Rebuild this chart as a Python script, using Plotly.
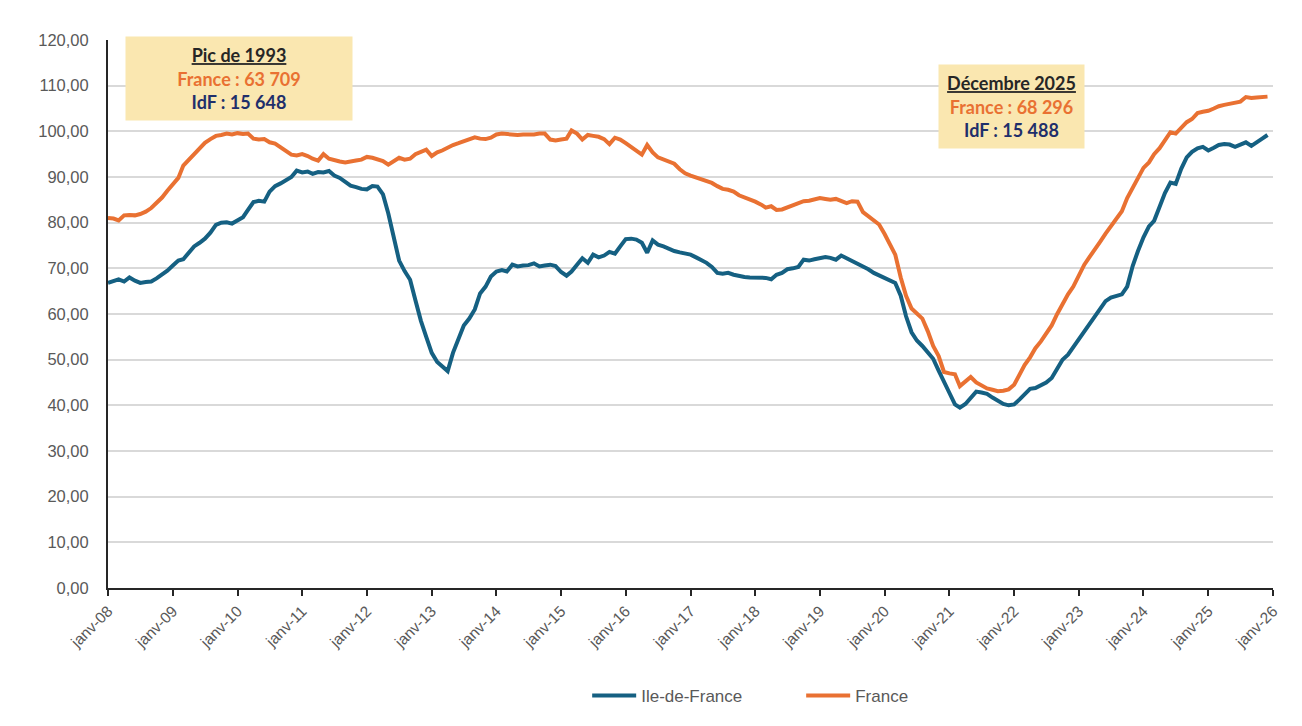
import plotly.graph_objects as go
import pandas as pd

# Monthly index values, janv-2008 .. déc-2025 (base 100 = pic de 1993)
months = pd.date_range("2008-01-01", "2025-12-01", freq="MS")

france = [
    81.0, 80.9, 80.5, 81.6, 81.7, 81.6, 81.9, 82.4, 83.2, 84.3, 85.5, 87.0,   # 2008
    88.5, 89.8, 92.5, 93.8, 95.2, 96.5, 97.5, 98.3, 99.0, 99.2, 99.5, 99.3,   # 2009
    99.6, 99.4, 99.5, 98.4, 98.2, 98.3, 97.6, 97.3, 96.4, 95.7, 94.9, 94.7,   # 2010
    95.0, 94.6, 94.0, 93.6, 95.0, 94.0, 93.6, 93.4, 93.2, 93.5, 93.6, 93.8,   # 2011
    94.4, 94.2, 93.8, 93.5, 92.7, 93.4, 94.2, 93.8, 94.0, 95.0, 95.4, 96.0,   # 2012
    94.6, 95.4, 95.8, 96.5, 97.0, 97.4, 97.8, 98.4, 98.7, 98.4, 98.3, 98.6,   # 2013
    99.3, 99.5, 99.4, 99.3, 99.2, 99.3, 99.2, 99.3, 99.5, 99.5, 98.2, 98.0,   # 2014
    98.2, 98.4, 100.2, 99.5, 98.2, 99.2, 99.0, 98.8, 98.3, 97.2, 98.6, 98.2,  # 2015
    97.4, 96.6, 95.6, 94.9, 97.0, 95.4, 94.3, 93.8, 93.3, 92.9, 91.7, 90.8,   # 2016
    90.3, 89.9, 89.5, 89.2, 88.7, 88.0, 87.4, 87.2, 86.8, 86.0, 85.6, 85.0,   # 2017
    84.6, 84.0, 83.3, 83.6, 82.8, 82.9, 83.4, 83.9, 84.4, 84.7, 84.8, 85.1,   # 2018
    85.4, 85.2, 85.0, 85.2, 84.8, 84.3, 84.7, 84.6, 82.3, 81.4, 80.7, 79.6,   # 2019
    77.5, 75.0, 73.0, 68.0, 64.0, 61.2, 60.1, 59.0, 56.2, 53.0, 50.8, 47.3,   # 2020
    47.0, 46.8, 44.2, 45.2, 46.2, 45.0, 44.4, 43.7, 43.4, 43.1, 43.2, 43.5,   # 2021
    44.5, 46.8, 48.8, 50.5, 52.5, 54.0, 55.8, 57.5, 60.0, 62.2, 64.3, 66.0,   # 2022
    68.3, 70.8, 72.4, 74.0, 75.8, 77.6, 79.2, 80.6, 82.5, 85.4, 87.6, 90.0,   # 2023
    92.0, 93.2, 95.0, 96.3, 97.9, 99.8, 99.5, 100.8, 102.0, 102.7, 104.0, 104.3,  # 2024
    104.5, 105.0, 105.5, 105.8, 106.1, 106.3, 106.5, 107.5, 107.3, 107.4, 107.6, 107.6,  # 2025
]

idf = [
    66.8, 67.2, 67.6, 67.1, 68.0, 67.3, 66.8, 67.0, 67.1, 67.8, 68.6, 69.5,   # 2008
    70.6, 71.7, 72.0, 73.3, 74.8, 75.6, 76.5, 77.8, 79.5, 80.0, 80.1, 79.8,   # 2009
    80.5, 81.2, 82.8, 84.5, 84.8, 84.6, 86.8, 88.0, 88.6, 89.4, 90.0, 91.4,   # 2010
    91.0, 91.2, 90.7, 91.1, 91.0, 91.3, 90.3, 89.8, 88.8, 88.1, 87.8, 87.4,   # 2011
    87.3, 88.0, 87.9, 86.2, 82.0, 77.0, 71.7, 69.4, 67.5, 63.0, 58.5, 55.0,   # 2012
    51.5, 49.5, 48.6, 47.5, 51.5, 54.6, 57.5, 59.0, 61.0, 64.5, 66.0, 68.2,   # 2013
    69.3, 69.6, 69.3, 70.8, 70.4, 70.6, 70.7, 71.1, 70.4, 70.6, 70.8, 70.5,   # 2014
    69.2, 68.4, 69.3, 70.8, 72.2, 71.2, 73.0, 72.4, 72.8, 73.6, 73.2, 74.8,   # 2015
    76.4, 76.5, 76.3, 75.6, 73.4, 76.1, 75.2, 74.8, 74.2, 73.8, 73.5, 73.3,   # 2016
    73.0, 72.4, 71.8, 71.2, 70.3, 69.0, 68.8, 69.0, 68.6, 68.3, 68.1, 68.0,   # 2017
    68.0, 68.1, 67.9, 67.6, 68.6, 69.0, 69.8, 70.0, 70.3, 71.9, 71.7, 72.0,   # 2018
    72.3, 72.5, 72.3, 71.9, 72.8, 72.2, 71.7, 71.0, 70.6, 69.8, 69.0, 68.5,   # 2019
    68.0, 67.5, 66.8, 64.0, 59.5, 56.0, 54.2, 53.0, 51.5, 50.2, 47.6, 45.0,   # 2020
    42.7, 40.2, 39.5, 40.3, 41.6, 43.0, 42.8, 42.5, 41.7, 41.0, 40.3, 40.0,   # 2021
    40.2, 41.3, 42.5, 43.6, 43.8, 44.4, 45.0, 46.0, 48.0, 50.0, 51.1, 52.8,   # 2022
    54.4, 56.2, 57.8, 59.3, 61.0, 62.8, 63.6, 63.9, 64.3, 66.0, 70.5, 73.8,   # 2023
    76.8, 79.2, 80.4, 83.5, 86.5, 88.8, 88.5, 91.8, 94.3, 95.5, 96.3, 96.6,   # 2024
    95.8, 96.4, 97.0, 97.2, 97.1, 96.6, 97.2, 97.6, 96.8, 97.5, 98.4, 99.2,   # 2025
]

tick_dates = [f"{y}-01-01" for y in range(2008, 2027)]
tick_labels = [f"janv-{y % 100:02d}" for y in range(2008, 2027)]
y_ticks = list(range(0, 121, 10))

BLUE = "#156082"
ORANGE = "#E97132"
NAVY = "#1F2F6B"
GREY = "#595959"

fig = go.Figure()
fig.add_trace(go.Scatter(x=months, y=idf, name="Ile-de-France", mode="lines",
                         line=dict(color=BLUE, width=4)))
fig.add_trace(go.Scatter(x=months, y=france, name="France", mode="lines",
                         line=dict(color=ORANGE, width=4)))

fig.update_layout(
    width=1302, height=726,
    margin=dict(l=100, r=37, t=32, b=146),
    paper_bgcolor="white", plot_bgcolor="white",
    separators=", ",
    font=dict(family="Liberation Sans, Arial, sans-serif", color=GREY, size=15),
    showlegend=True,
    legend=dict(orientation="h", x=0.595, xanchor="center", y=-0.197, yanchor="middle",
                font=dict(size=17, color=GREY), itemwidth=44, tracegroupgap=0,
                entrywidthmode="pixels", entrywidth=155),
    xaxis=dict(
        type="date", range=["2008-01-01", "2026-01-01"],
        tickmode="array", tickvals=tick_dates, ticktext=tick_labels,
        tickangle=-45, ticks="outside", ticklen=6, tickwidth=1.5, tickcolor="#262626",
        showline=True, linecolor="#262626", linewidth=2,
        showgrid=False, zeroline=False,
        tickfont=dict(size=15.5, color=GREY),
    ),
    yaxis=dict(
        range=[0, 120], tickmode="array", tickvals=y_ticks, tickformat=".2f",
        showline=True, linecolor="#262626", linewidth=2,
        showgrid=True, gridcolor="#D9D9D9", gridwidth=1.5,
        zeroline=False, ticks="", ticklabelstandoff=14,
        tickfont=dict(size=16.5, color=GREY),
    ),
)

box_font = dict(family="Lato, Open Sans, sans-serif", size=18, color="#262626")
fig.add_annotation(
    xref="paper", yref="paper", x=0.1124, y=0.929, xanchor="center", yanchor="middle",
    showarrow=False, width=226, height=83, borderpad=0, bgcolor="#FAE7B0",
    align="center", font=box_font,
    text=("<b><u>Pic de 1993</u></b><br>"
          f"<b><span style='color:{ORANGE}'>France : 63 709</span></b><br>"
          f"<b><span style='color:{NAVY}'>IdF : 15 648</span></b>"),
)
fig.add_annotation(
    xref="paper", yref="paper", x=0.7755, y=0.8788, xanchor="center", yanchor="middle",
    showarrow=False, width=145, height=83, borderpad=0, bgcolor="#FAE7B0",
    align="center", font=box_font,
    text=("<b><u>Décembre 2025</u></b><br>"
          f"<b><span style='color:{ORANGE}'>France : 68 296</span></b><br>"
          f"<b><span style='color:{NAVY}'>IdF : 15 488</span></b>"),
)

fig.write_html("out.html")
